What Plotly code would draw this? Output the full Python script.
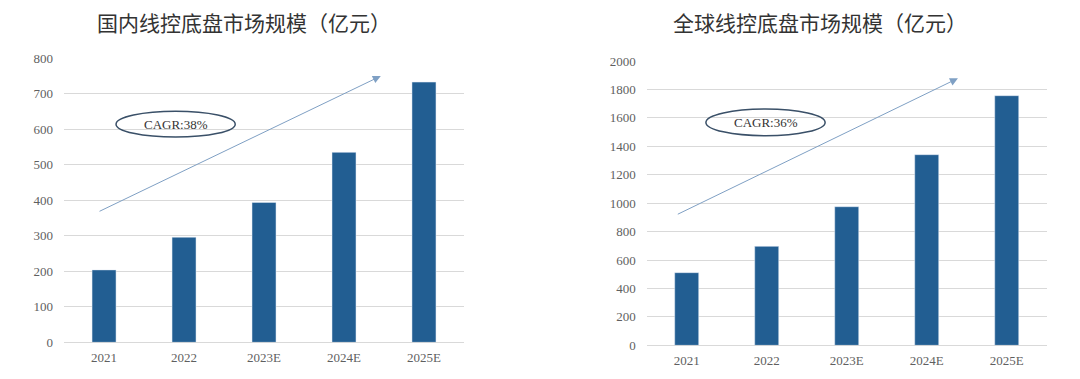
import plotly.graph_objects as go

categories = ["2021", "2022", "2023E", "2024E", "2025E"]
domestic = [204, 296, 394, 535, 733]
global_vals = [511, 696, 975, 1341, 1756]
title_left = "国内线控底盘市场规模（亿元）"
title_right = "全球线控底盘市场规模（亿元）"
cagr_left = "CAGR:38%"
cagr_right = "CAGR:36%"

BAR = "#225E92"
GRID = "#D9D9D9"
TICK = "#5F5F5F"
ARROW = "#7FA0C4"
ELL = "#3A5068"
SERIF = "Liberation Serif, Times New Roman, serif"

fig = go.Figure()
fig.add_trace(go.Bar(x=categories, y=domestic, marker_color=BAR, xaxis="x", yaxis="y", showlegend=False))
fig.add_trace(go.Bar(x=categories, y=global_vals, marker_color=BAR, xaxis="x2", yaxis="y2", showlegend=False))

tickfont = dict(family=SERIF, size=13, color=TICK)
common_x = dict(showgrid=False, showline=False, ticks="", tickfont=tickfont, ticklabelstandoff=6,
                automargin=False)
common_y = dict(showgrid=True, gridcolor=GRID, gridwidth=1, zeroline=True, zerolinecolor=GRID,
                zerolinewidth=1, showline=False, ticks="", tickfont=tickfont, ticklabelstandoff=10,
                automargin=False)

fig.update_layout(
    width=1080, height=379,
    margin=dict(l=0, r=0, t=0, b=0),
    paper_bgcolor="white", plot_bgcolor="white",
    bargap=0.7,
    xaxis=dict(domain=[0.0519, 0.4222], anchor="y", **common_x),
    yaxis=dict(domain=[0.1179, 0.8673], range=[0, 800], dtick=100, anchor="x", **common_y),
    xaxis2=dict(domain=[0.5914, 0.9618], anchor="y2", **common_x),
    yaxis2=dict(domain=[0.1100, 0.8602], range=[0, 2000], dtick=200, anchor="x2", **common_y),
)

title_font = dict(family="Noto Sans CJK SC", size=21, color="#333333")
fig.add_annotation(text=title_left, xref="paper", yref="paper", x=0.2185, y=0.963,
                   showarrow=False, font=title_font, xanchor="center", yanchor="middle")
fig.add_annotation(text=title_right, xref="paper", yref="paper", x=0.752, y=0.963,
                   showarrow=False, font=title_font, xanchor="center", yanchor="middle")

# trend arrows
fig.add_annotation(x=3.46, y=750, ax=-0.075, ay=367, xref="x", yref="y", axref="x", ayref="y",
                   showarrow=True, arrowhead=2, arrowsize=1.6, arrowwidth=1, arrowcolor=ARROW, text="")
fig.add_annotation(x=3.39, y=1878, ax=-0.13, ay=917, xref="x2", yref="y2", axref="x2", ayref="y2",
                   showarrow=True, arrowhead=2, arrowsize=1.6, arrowwidth=1, arrowcolor=ARROW, text="")

# CAGR ellipses
fig.add_shape(type="circle", xref="x", yref="y", x0=0.15, x1=1.64, y0=578, y1=651,
              line=dict(color=ELL, width=1.5), fillcolor="rgba(255,255,255,0)")
fig.add_shape(type="circle", xref="x2", yref="y2", x0=0.24, x1=1.73, y0=1474, y1=1662,
              line=dict(color=ELL, width=1.5), fillcolor="rgba(255,255,255,0)")

cagr_font = dict(family=SERIF, size=13, color="#333333")
fig.add_annotation(text=cagr_left, x=0.895, y=614, xref="x", yref="y", showarrow=False, font=cagr_font)
fig.add_annotation(text=cagr_right, x=0.985, y=1568, xref="x2", yref="y2", showarrow=False, font=cagr_font)

fig.write_html("out.html")
